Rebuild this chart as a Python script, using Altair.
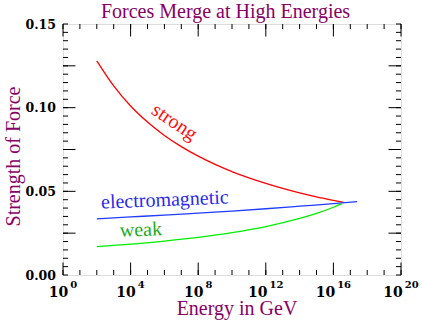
import altair as alt
import pandas as pd

# ---- data ----
strong_exp = [2, 3, 4, 5, 6, 7, 8, 9, 10, 11, 12, 13, 14, 15, 16, 16.6]
strong_val = [0.128, 0.113, 0.101, 0.0914, 0.0834, 0.0767, 0.0710, 0.0661,
              0.0618, 0.0581, 0.0548, 0.0518, 0.0491, 0.0467, 0.0446, 0.0434]
em_exp = [2, 4, 6, 8, 10, 12, 14, 16, 17.4]
em_val = [0.0336, 0.0347, 0.0358, 0.0370, 0.0382, 0.0396, 0.0411, 0.0426, 0.0438]
weak_exp = [2, 4, 6, 8, 10, 12, 14, 15, 16, 16.5]
weak_val = [0.0169, 0.0184, 0.0203, 0.0225, 0.0253, 0.0289, 0.0338, 0.0368, 0.0405, 0.0426]

series_names = ["strong", "electromagnetic", "weak"]
line_colors = ["#ff0000", "#1f3cff", "#00ee00"]
label_colors = ["#ff1010", "#2a2ae8", "#22aa22"]
label_exp = [6.39, 6.04, 4.62]
label_val = [0.0884, 0.0412, 0.0233]
label_angle = [34, 357.7, 358]

x_major_exp = [0, 4, 8, 12, 16, 20]
x_minor_exp = list(range(0, 21))
y_label_vals = [0.0, 0.05, 0.10, 0.15]
y_major_vals = [0.025, 0.05, 0.075, 0.10, 0.125]
y_minor_vals = [i * 0.005 for i in range(31)]

title_text = "Forces Merge at High Energies"
x_title = "Energy in GeV"
y_title = "Strength of Force"

W, H = 338, 251
PURPLE = "#880066"
LABEL_FONT = "DejaVu Serif"
SERIF = "Liberation Serif"

rows = []
for name, ex, vals in zip(series_names, [strong_exp, em_exp, weak_exp],
                          [strong_val, em_val, weak_val]):
    for e, v in zip(ex, vals):
        rows.append({"series": name, "x": 10 ** e, "y": v})
curves = pd.DataFrame(rows)

xscale = alt.Scale(type="log", domain=[1, 1e20], nice=False)
yscale = alt.Scale(domain=[0, 0.15], nice=False, zero=False)

base = alt.Chart(curves).mark_line(strokeWidth=1.3, interpolate="monotone").encode(
    x=alt.X("x:Q", scale=xscale,
            axis=alt.Axis(values=[10 ** e for e in x_major_exp], labels=False,
                          title=x_title,
                          ticks=False, domain=False, grid=False,
                          titleFont=SERIF, titleFontSize=20, titleFontWeight="normal",
                          titleColor=PURPLE, titleX=173.5, titleY=39,
                          titleBaseline="alphabetic", titleAlign="center")),
    y=alt.Y("y:Q", scale=yscale,
            axis=alt.Axis(values=y_label_vals, format=".2f", title=y_title,
                          labelFont=LABEL_FONT, labelFontWeight="bold", labelFontSize=12.5,
                          labelColor="black", labelPadding=7.5, labelOverlap=False,
                          labelFlush=False,
                          ticks=False, domain=False, grid=False,
                          titleFont=SERIF, titleFontSize=20, titleFontWeight="normal",
                          titleColor=PURPLE, titleX=-44, titleY=132, titleAngle=270,
                          titleBaseline="alphabetic", titleAlign="center")),
    color=alt.Color("series:N", scale=alt.Scale(domain=series_names, range=line_colors),
                    legend=None),
)

layers = [base]

# x tick labels: "10" with a raised exponent
for ndig, shift in [(1, 5.25), (2, 1.75)]:
    exps = [e for e in x_major_exp if len(str(e)) == ndig]
    df = pd.DataFrame({"x": [10 ** e for e in exps], "b": ["10"] * len(exps),
                       "p": [str(e) for e in exps]})
    layers.append(alt.Chart(df).mark_text(font=LABEL_FONT, fontWeight="bold", fontSize=14,
                                          color="black", align="right", baseline="alphabetic",
                                          dx=shift).encode(
        x=alt.X("x:Q", scale=xscale), y=alt.value(H + 22), text="b:N"))
    layers.append(alt.Chart(df).mark_text(font=LABEL_FONT, fontWeight="bold", fontSize=10,
                                          color="black", align="left", baseline="alphabetic",
                                          dx=shift + 2).encode(
        x=alt.X("x:Q", scale=xscale), y=alt.value(H + 13), text="p:N"))

# series labels
for name, e, v, a, c in zip(series_names, label_exp, label_val, label_angle, label_colors):
    df = pd.DataFrame({"x": [10 ** e], "y": [v], "t": [name]})
    layers.append(
        alt.Chart(df).mark_text(font=SERIF, fontSize=20, color=c, angle=a,
                                align="center", baseline="alphabetic").encode(
            x=alt.X("x:Q", scale=xscale),
            y=alt.Y("y:Q", scale=yscale),
            text="t:N")
    )

# inward ticks
def xticks(exps, length):
    df = pd.DataFrame({"x": [10 ** e for e in exps]})
    top = alt.Chart(df).mark_rule(color="black", strokeWidth=1).encode(
        x=alt.X("x:Q", scale=xscale), y=alt.value(0), y2=alt.value(length))
    bot = alt.Chart(df).mark_rule(color="black", strokeWidth=1).encode(
        x=alt.X("x:Q", scale=xscale), y=alt.value(H), y2=alt.value(H - length))
    return [top, bot]

def yticks(vals, length):
    df = pd.DataFrame({"y": vals})
    left = alt.Chart(df).mark_rule(color="black", strokeWidth=1).encode(
        y=alt.Y("y:Q", scale=yscale), x=alt.value(0), x2=alt.value(length))
    right = alt.Chart(df).mark_rule(color="black", strokeWidth=1).encode(
        y=alt.Y("y:Q", scale=yscale), x=alt.value(W), x2=alt.value(W - length))
    return [left, right]

layers += xticks(x_minor_exp, 5)
layers += xticks(x_major_exp, 12.5)
layers += yticks(y_minor_vals, 5)
layers += yticks(y_major_vals, 12.5)

chart = alt.layer(*layers).properties(
    width=W, height=H,
    title=alt.TitleParams(title_text, font=SERIF, fontSize=20, fontWeight="normal",
                          color=PURPLE, anchor="middle", dx=-6.5, dy=6, offset=2,
                          frame="group"),
    autosize=alt.AutoSizeParams(type="none"),
    padding={"left": 63, "top": 24, "right": 21, "bottom": 47},
).configure_view(stroke="black", strokeWidth=1).configure(background="white")

chart.save("out.html", embed_options={"renderer": "svg", "actions": False})
